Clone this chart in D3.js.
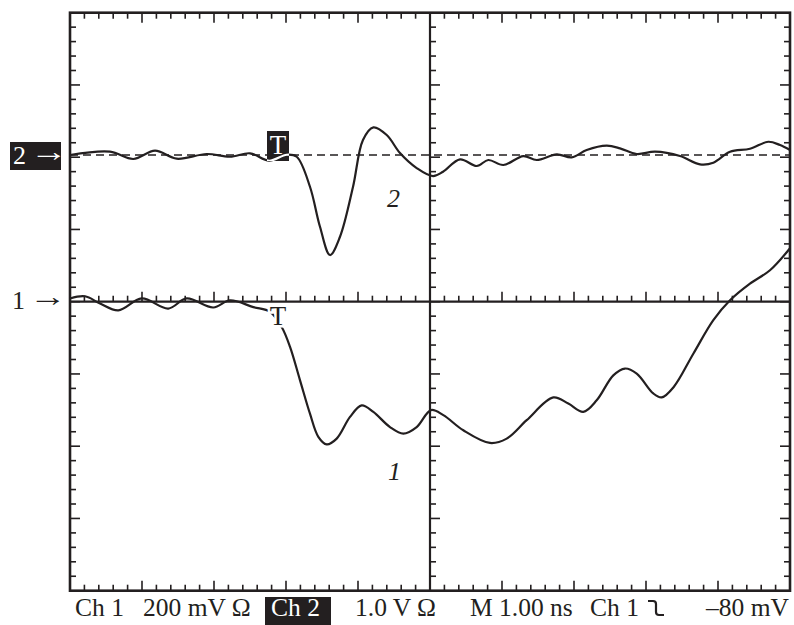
<!DOCTYPE html>
<html>
<head>
<meta charset="utf-8">
<script src="https://cdn.jsdelivr.net/npm/d3@7"></script>
<style>
  body { margin: 0; background: #fff; }
  svg text { font-family: "Liberation Serif", "Times New Roman", serif; fill: #231f20; }
</style>
</head>
<body>
<div id="chart"></div>
<script>
// time axis in ns (1 ns / div), ch1 in mV (200 mV / div), ch2 in V (1.0 V / div)
const ch2Time = [0, 0.556, 0.879, 1.181, 1.482, 1.899, 2.222, 2.5, 2.764, 3.01, 3.149, 3.333, 3.472, 3.611, 3.75, 3.931, 4.069, 4.213, 4.399, 4.583, 4.815, 5.042, 5.181, 5.417, 5.649, 5.81, 6.018, 6.296, 6.482, 6.76, 6.968, 7.176, 7.454, 7.639, 7.871, 8.125, 8.472, 8.75, 8.935, 9.167, 9.444, 9.699, 9.861, 10];
const ch2Volts = [0, 0.046, -0.055, 0.06, -0.051, 0.014, -0.024, 0.024, -0.079, 0.004, -0.024, -0.439, -0.993, -1.384, -1.131, -0.439, 0.208, 0.383, 0.277, 0.028, -0.18, -0.291, -0.231, -0.06, -0.152, -0.069, -0.138, -0.014, -0.069, 0.01, -0.032, 0.069, 0.129, 0.093, 0.014, 0.046, -0.014, -0.129, -0.107, 0.046, 0.087, 0.184, 0.138, 0.069];

const ch1Time = [0, 0.208, 0.417, 0.671, 0.996, 1.365, 1.621, 1.99, 2.222, 2.546, 2.778, 2.94, 3.056, 3.194, 3.333, 3.449, 3.565, 3.704, 3.889, 4.051, 4.213, 4.444, 4.629, 4.815, 5.014, 5.185, 5.463, 5.833, 6.065, 6.343, 6.713, 6.921, 7.129, 7.315, 7.546, 7.708, 7.871, 8.101, 8.218, 8.385, 8.657, 8.935, 9.167, 9.444, 9.722, 10];
const ch1mV = [5, 11, -9, -28, 5, -23, 5, -20, 0, -19, -32, -74, -129, -221, -314, -378, -399, -383, -323, -291, -309, -351, -369, -351, -304, -318, -360, -395, -383, -332, -269, -286, -309, -277, -208, -189, -203, -258, -269, -240, -148, -55, 0, 46, 83, 144];

const ch1Scale = 200;   // mV per division
const ch2Scale = 1.0;   // V per division
const ch1Ground = 0.02; // divisions above centre
const ch2Ground = 2.03;

const statusLabels = ["Ch 1", "200 mV \u03A9", "Ch 2", "1.0 V \u03A9", "M 1.00 ns", "Ch 1", "\u201380 mV"];

const width = 794, height = 625;
const plotL = 70, plotR = 790, plotT = 12.7, plotB = 590.7;

const svg = d3.select('#chart').append('svg')
  .attr('width', width)
  .attr('height', height);

const x = d3.scaleLinear().domain([0, 10]).range([plotL, plotR]);
const y = d3.scaleLinear().domain([-4, 4]).range([plotB, plotT]);

const ink = '#231f20';

// graticule ticks (5 per division)
const xTicks = d3.range(1, 50).map(i => i / 5);
const yTicks = d3.range(1, 40).map(i => -4 + i / 5);
const tickLen = v => (Math.abs(v - Math.round(v)) < 1e-6 ? 10 : 6);

const g = svg.append('g').attr('stroke', ink).attr('stroke-width', 1.6);

// top edge: down, bottom edge: up, centre horizontal: up
g.selectAll('.tt').data(xTicks).enter().append('line')
  .attr('x1', d => x(d)).attr('x2', d => x(d))
  .attr('y1', plotT).attr('y2', d => plotT + tickLen(d));
g.selectAll('.tb').data(xTicks).enter().append('line')
  .attr('x1', d => x(d)).attr('x2', d => x(d))
  .attr('y1', plotB).attr('y2', d => plotB - tickLen(d));
g.selectAll('.tc').data(xTicks).enter().append('line')
  .attr('x1', d => x(d)).attr('x2', d => x(d))
  .attr('y1', y(0)).attr('y2', d => y(0) - tickLen(d));

// left edge: right, right edge: left, centre vertical: right
g.selectAll('.tl').data(yTicks).enter().append('line')
  .attr('y1', d => y(d)).attr('y2', d => y(d))
  .attr('x1', plotL).attr('x2', d => plotL + tickLen(d));
g.selectAll('.tr').data(yTicks).enter().append('line')
  .attr('y1', d => y(d)).attr('y2', d => y(d))
  .attr('x1', plotR).attr('x2', d => plotR - tickLen(d));
g.selectAll('.tv').data(yTicks).enter().append('line')
  .attr('y1', d => y(d)).attr('y2', d => y(d))
  .attr('x1', x(5)).attr('x2', d => x(5) + tickLen(d));

// frame and centre cross
svg.append('rect')
  .attr('x', plotL).attr('y', plotT)
  .attr('width', plotR - plotL).attr('height', plotB - plotT)
  .attr('fill', 'none').attr('stroke', ink).attr('stroke-width', 2.6);
svg.append('line')
  .attr('x1', plotL).attr('x2', plotR).attr('y1', y(0)).attr('y2', y(0))
  .attr('stroke', ink).attr('stroke-width', 2.2);
svg.append('line')
  .attr('x1', x(5)).attr('x2', x(5)).attr('y1', plotT).attr('y2', plotB)
  .attr('stroke', ink).attr('stroke-width', 2.2);

// ch2 ground reference (dashed)
svg.append('line')
  .attr('x1', plotL).attr('x2', plotR)
  .attr('y1', y(ch2Ground)).attr('y2', y(ch2Ground))
  .attr('stroke', ink).attr('stroke-width', 1.4)
  .attr('stroke-dasharray', '8,5');

const line = d3.line().curve(d3.curveCatmullRom.alpha(0.5));

const ch2Pts = ch2Time.map((t, i) => [x(t), y(ch2Ground + ch2Volts[i] / ch2Scale)]);
const ch1Pts = ch1Time.map((t, i) => [x(t), y(ch1Ground + ch1mV[i] / ch1Scale)]);

svg.append('path').attr('d', line(ch2Pts))
  .attr('fill', 'none').attr('stroke', ink).attr('stroke-width', 2.2);
svg.append('path').attr('d', line(ch1Pts))
  .attr('fill', 'none').attr('stroke', ink).attr('stroke-width', 2.2);

// trigger marker on ch2 (black box, trace shown white inside)
const tBox = { x: 267, y: 131, w: 22, h: 30 };
svg.append('clipPath').attr('id', 'tclip').append('rect')
  .attr('x', tBox.x).attr('y', tBox.y).attr('width', tBox.w).attr('height', tBox.h);
svg.append('rect')
  .attr('x', tBox.x).attr('y', tBox.y).attr('width', tBox.w).attr('height', tBox.h)
  .attr('fill', ink);
svg.append('path').attr('d', line(ch2Pts))
  .attr('clip-path', 'url(#tclip)')
  .attr('fill', 'none').attr('stroke', '#fff').attr('stroke-width', 2.2);
svg.append('text')
  .attr('x', tBox.x + tBox.w / 2).attr('y', 154)
  .attr('text-anchor', 'middle').attr('font-size', 27)
  .style('fill', '#fff').text('T');

// trigger marker on ch1 (plain T with white halo)
svg.append('text')
  .attr('x', 278).attr('y', 325)
  .attr('text-anchor', 'middle').attr('font-size', 27)
  .attr('stroke', '#fff').attr('stroke-width', 5).attr('paint-order', 'stroke')
  .text('T');

// channel ground markers: digit + thin arrow
function marker(xPos, yBase, label, colour) {
  svg.append('text').attr('x', xPos).attr('y', yBase).attr('font-size', 26)
    .style('fill', colour).text(label);
  svg.append('text')
    .attr('transform', `translate(${xPos + 17},${yBase - 3}) scale(1.5,1.15)`)
    .attr('font-size', 25)
    .style('fill', colour).text('\u2192');
}
svg.append('rect').attr('x', 10).attr('y', 142).attr('width', 51).attr('height', 28).attr('fill', ink);
marker(13, 164, '2', '#fff');
marker(12, y(ch1Ground) + 9, '1', ink);

// trace labels
svg.append('text').attr('x', 387).attr('y', 207).attr('font-size', 26)
  .attr('font-style', 'italic').text('2');
svg.append('text').attr('x', 388).attr('y', 480).attr('font-size', 26)
  .attr('font-style', 'italic').text('1');

// status line
const statusX = [75, 143, 271, 355, 470, 590, 706];
const baseY = 616;
svg.append('rect').attr('x', 265).attr('y', 597).attr('width', 66).attr('height', 28).attr('fill', ink);
svg.selectAll('.status').data(statusLabels).enter().append('text')
  .attr('x', (d, i) => statusX[i]).attr('y', baseY)
  .attr('font-size', 25.5)
  .style('fill', (d, i) => (i === 2 ? '#fff' : ink))
  .text(d => d);

// falling-edge trigger symbol
svg.append('path')
  .attr('d', 'M648,601 h5 q3,0 3,3 v8 q0,3 3,3 h5')
  .attr('fill', 'none').attr('stroke', ink).attr('stroke-width', 2.2);
</script>
</body>
</html>
